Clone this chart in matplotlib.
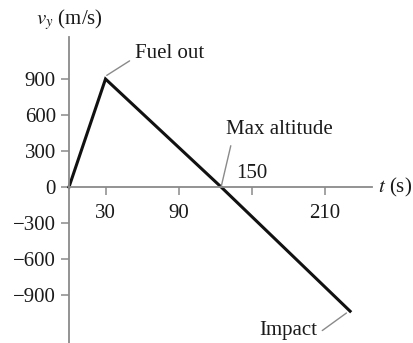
import matplotlib
matplotlib.use("Agg")
import matplotlib.pyplot as plt

plt.rcParams['font.family'] = ['Liberation Serif', 'DejaVu Serif']
plt.rcParams['mathtext.fontset'] = 'stix'

# velocity of the rocket vs time
t_vals = [0, 30, 125, 231]
v_vals = [0, 900, 0, -1035]

x_ticks = [30, 90, 150, 210]
x_labels = ['30', '90', '', '210']
y_ticks = [-900, -600, -300, 0, 300, 600, 900]

text_col = '#1a1a1a'
axis_col = '#8a8a8a'
fs = 15

fig = plt.figure(figsize=(4.13, 3.43), dpi=100)
ax = fig.add_axes([69/413, 0.0, (372-69)/413, 1 - 37/343])

ax.plot(t_vals, v_vals, color='#111111', lw=2.2, solid_joinstyle='miter', clip_on=False)

ax.set_xlim(0, 249)
ax.set_ylim(-1300, 1250)

for s in ['top', 'right']:
    ax.spines[s].set_visible(False)
ax.spines['bottom'].set_position(('data', 0))
ax.spines['left'].set_color(axis_col)
ax.spines['bottom'].set_color(axis_col)
ax.spines['left'].set_linewidth(1.3)
ax.spines['bottom'].set_linewidth(1.3)

ax.set_xticks(x_ticks, x_labels)
ax.set_yticks(y_ticks)
ax.tick_params(axis='both', direction='out', length=5.5, width=1.1, color=axis_col,
               labelsize=fs, labelcolor=text_col)
ax.tick_params(axis='x', pad=6.5)
ax.tick_params(axis='y', pad=4)

# the 150 label sits above the axis
ax.annotate('150', xy=(150, 0), xytext=(0, 3), textcoords='offset points',
            ha='center', va='bottom', fontsize=fs, color=text_col)

# axis titles
fig.text(69/413, 1 - 20/343, r'$v_y$ (m/s)', ha='center', va='center',
         fontsize=fs, color=text_col)
ax.annotate(r'$t$ (s)', xy=(1, 0), xycoords=('axes fraction', 'data'),
            xytext=(4, 0), textcoords='offset points', ha='left', va='center',
            fontsize=fs, color=text_col, annotation_clip=False)

# callouts
def leader(rel, gap):
    return dict(arrowstyle='-', color=axis_col, lw=1.0, shrinkA=gap, shrinkB=0,
                relpos=rel)

ax.annotate('Fuel out', xy=(31, 930), xytext=(54, 1110), ha='left', va='center',
            fontsize=fs, color=text_col, arrowprops=leader((0, 0.3), 2))
ax.annotate('Max altitude', xy=(125, 0), xytext=(129, 480), ha='left', va='center',
            fontsize=fs, color=text_col, arrowprops=leader((0.06, 0.0), 3))
ax.annotate('Impact', xy=(228, -1050), xytext=(204, -1195), ha='right', va='center',
            fontsize=fs, color=text_col, arrowprops=leader((1, 0.3), 2))

fig.savefig('out.png', dpi=100)
